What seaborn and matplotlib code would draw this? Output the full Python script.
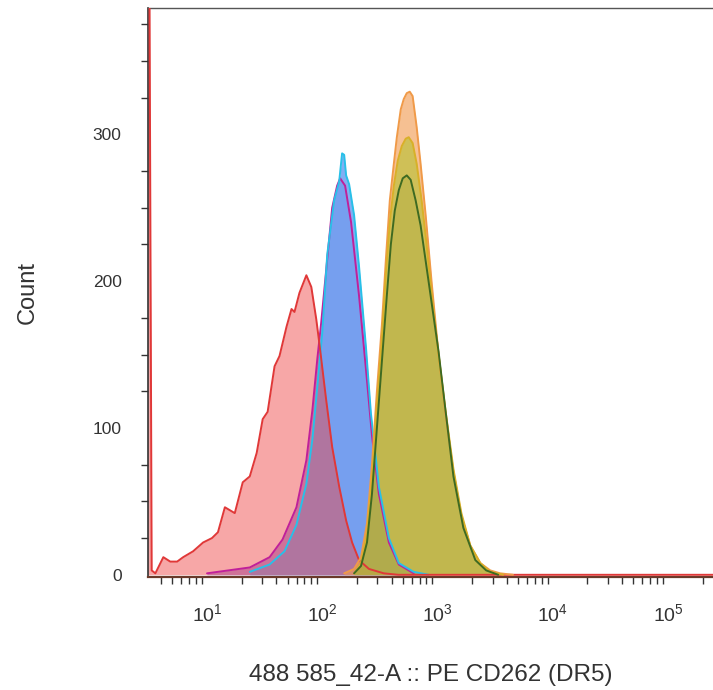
import numpy as np
import pandas as pd
import matplotlib
matplotlib.use("Agg")
import matplotlib.pyplot as plt
import seaborn as sns
from matplotlib.ticker import FixedLocator, LogLocator, NullFormatter

sns.set_theme(style="white")
plt.rcParams['font.family'] = ['Liberation Sans', 'DejaVu Sans']
plt.rcParams['mathtext.fontset'] = 'custom'
plt.rcParams['mathtext.rm'] = 'Liberation Sans'
plt.rcParams['mathtext.it'] = 'Liberation Sans'
plt.rcParams['mathtext.default'] = 'regular'

# ---- data (log10 of intensity, counts) ----
red_log10x = [0.45, 0.50, 0.52, 0.552, 0.621, 0.681, 0.741, 0.793, 0.879, 0.966, 1.043, 1.095,
              1.155, 1.241, 1.310, 1.371, 1.431, 1.483, 1.526, 1.586, 1.629, 1.690, 1.733,
              1.759, 1.802, 1.862, 1.905, 1.948, 1.974, 2.034, 2.086, 2.147, 2.207, 2.259,
              2.319, 2.405, 2.534, 2.66, 5.5]
red_count = [420, 420, 3, 1, 12, 9, 9, 12, 16, 22, 25, 29, 46, 42, 63, 67, 83, 106, 111, 142,
             149, 169, 181, 179, 192, 204, 196, 174, 158, 119, 87, 60, 37, 22, 10, 4, 1, 0, 0]

purple_log10x = [1.000, 1.371, 1.543, 1.655, 1.776, 1.862, 1.914, 1.957, 1.991, 2.043, 2.086,
                 2.129, 2.155, 2.198, 2.250, 2.319, 2.379, 2.431, 2.491, 2.578, 2.664, 2.793]
purple_count = [1, 5, 12, 24, 46, 78, 112, 147, 172, 215, 250, 265, 270, 265, 240, 190, 140,
                95, 55, 22, 7, 1]

blue_log10x = [1.371, 1.543, 1.672, 1.776, 1.862, 1.914, 1.957, 2.000, 2.043, 2.103, 2.147,
               2.172, 2.190, 2.207, 2.233, 2.276, 2.319, 2.379, 2.422, 2.491, 2.578, 2.664,
               2.793, 2.922]
blue_count = [2, 7, 16, 34, 62, 92, 128, 165, 218, 255, 268, 287, 286, 272, 266, 245, 210, 155,
              110, 60, 25, 8, 2, 0]

orange_log10x = [2.190, 2.276, 2.336, 2.388, 2.431, 2.474, 2.517, 2.552, 2.586, 2.621, 2.647,
                 2.681, 2.707, 2.733, 2.759, 2.784, 2.819, 2.853, 2.897, 2.948, 3.009, 3.069,
                 3.138, 3.207, 3.284, 3.371, 3.457, 3.543, 3.655]
orange_count = [1, 4, 12, 35, 75, 125, 170, 215, 255, 280, 298, 317, 324, 328, 329, 326, 305,
                280, 245, 200, 150, 110, 70, 40, 20, 8, 3, 1, 0]

yellow_log10x = [2.276, 2.336, 2.388, 2.431, 2.474, 2.517, 2.552, 2.586, 2.621, 2.655, 2.690,
                 2.724, 2.750, 2.784, 2.819, 2.862, 2.905, 2.957, 3.009, 3.069, 3.138, 3.207,
                 3.284, 3.371, 3.457, 3.569]
yellow_count = [1, 8, 28, 65, 115, 160, 205, 240, 265, 282, 292, 297, 298, 294, 280, 255, 225,
                185, 150, 112, 72, 42, 20, 8, 2, 0]

green_log10x = [2.276, 2.336, 2.388, 2.431, 2.474, 2.517, 2.560, 2.595, 2.629, 2.664, 2.698,
                2.733, 2.767, 2.810, 2.853, 2.922, 3.009, 3.069, 3.138, 3.224, 3.328, 3.422,
                3.526]
green_count = [1, 6, 22, 55, 100, 145, 190, 225, 248, 262, 270, 272, 269, 255, 238, 200, 152,
               112, 67, 32, 10, 3, 0]

series = [
    # name, x, y, fill, fill alpha, line colour
    ("purple", purple_log10x, purple_count, "#9070d8", 0.7, "#c0209a"),
    ("blue", blue_log10x, blue_count, "#6ca0f2", 0.85, "#28c0e8"),
    ("red", red_log10x, red_count, "#f04848", 0.48, "#e03838"),
    ("orange", orange_log10x, orange_count, "#f29a50", 0.62, "#f09a48"),
    ("yellow", yellow_log10x, yellow_count, "#b8c034", 0.62, "#d8b028"),
    ("green", green_log10x, green_count, "#909a30", 0.22, "#3e6a22"),
]

xlabel = "488 585_42-A :: PE CD262 (DR5)"
ylabel = "Count"

fig = plt.figure(figsize=(7.13, 6.90), dpi=100)
ax = fig.add_axes([148 / 713, 1 - 577 / 690, 1 - 148 / 713, (577 - 8) / 690])

for name, lx, cnt, fc, fa, lc in series:
    xv = 10 ** np.array(lx)
    yv = np.array(cnt, dtype=float)
    ax.fill_between(xv, 0, yv, color=fc, alpha=fa, linewidth=0, zorder=2)
    df = pd.DataFrame({"x": xv, "y": yv})
    sns.lineplot(data=df, x="x", y="y", ax=ax, color=lc, linewidth=1.4,
                 estimator=None, sort=False, zorder=3)

ax.set_xscale("log")
ax.set_xlim(10 ** 0.488, 10 ** 5.39)
ax.set_ylim(-1.5, 386)

ax.xaxis.set_major_locator(FixedLocator([1e1, 1e2, 1e3, 1e4, 1e5]))
ax.xaxis.set_minor_locator(LogLocator(base=10, subs=np.arange(2, 10), numticks=20))
ax.xaxis.set_minor_formatter(NullFormatter())
ax.set_xticklabels([r"$10^{1}$", r"$10^{2}$", r"$10^{3}$", r"$10^{4}$", r"$10^{5}$"])

ax.yaxis.set_major_locator(FixedLocator([0, 100, 200, 300]))
ax.yaxis.set_minor_locator(FixedLocator(np.arange(0, 400, 25)))

ax.tick_params(axis="x", which="major", direction="out", length=12, width=2.0,
               color="#222222", labelsize=14, pad=7, labelcolor="#333333")
ax.tick_params(axis="x", which="minor", direction="out", length=5, width=1.0, color="#333333",
               bottom=True)
ax.tick_params(axis="y", which="major", direction="out", length=12, width=2.0,
               color="#222222", labelsize=12.5, pad=7, labelcolor="#333333")
ax.tick_params(axis="y", which="minor", direction="out", length=5, width=1.0, color="#333333",
               left=True)

ax.set_xlabel(xlabel, fontsize=17.5, color="#333333", labelpad=28)
ax.set_ylabel(ylabel, fontsize=17, color="#333333", labelpad=39)

for s in ["left", "bottom", "top"]:
    ax.spines[s].set_visible(True)
    ax.spines[s].set_color("#333333")
ax.spines["left"].set_linewidth(1.2)
ax.spines["bottom"].set_linewidth(1.6)
ax.spines["bottom"].set_color("#6a3a2a")
ax.spines["top"].set_linewidth(1.0)
ax.spines["top"].set_color("#555555")
ax.spines["right"].set_visible(False)
ax.grid(False)

fig.savefig("out.png", dpi=100)
